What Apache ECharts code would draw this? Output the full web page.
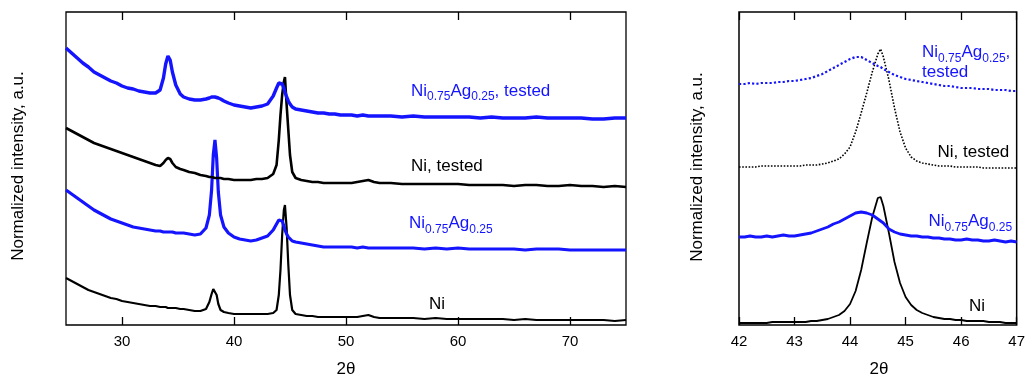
<!DOCTYPE html>
<html>
<head>
<meta charset="utf-8">
<script src="https://cdn.jsdelivr.net/npm/echarts@6/dist/echarts.min.js"></script>
<style>
html,body{margin:0;padding:0;background:#fff;}
#chart{width:1028px;height:378px;}
</style>
</head>
<body>
<div id="chart"></div>
<script>
// ---------- DATA (intensity in arbitrary units) ----------
// Wide scan, 2θ values
const wideTheta = [25,25.5,26,26.5,27,27.5,28,28.5,29,29.5,30,30.5,31,31.5,32,32.5,33,
  33.4,33.7,33.9,34.1,34.3,34.5,34.8,35.2,35.5,36,36.5,37,37.5,
  37.8,38.0,38.15,38.3,38.45,38.6,38.8,39.1,39.5,40,40.5,41,41.5,42,42.5,43,43.5,
  43.8,44.0,44.15,44.3,44.45,44.55,44.7,44.85,45.0,45.2,45.5,
  46,46.5,47,47.5,48,48.5,49,49.5,50,50.5,51,51.5,52,52.5,53,
  54,55,56,57,58,59,60,61,62,63,64,65,66,67,68,69,70,71,72,73,74,75];

const wideNiAgTested = [277,272,267,262,258,253,250,247,244,242,239,237,236,234,233,232,232,
  235,247,261,269,265,253,240,231,228,226,225,225,226,
  227,228,228,228,228,227,226,224,222,220,219,218,217,218,219,221,229,
  237,242,243,241,237,233,228,224,221,218,216,
  215,214,213,212,212,211,211,210,210,210,209,210,209,209,209,
  209,208,209,208,208,208,208,208,207,208,207,207,207,208,207,207,207,207,206,206,207,207];

const wideNiTested = [197,194,191,188,185,182,180,178,176,174,172,170,168,166,164,162,160,
  159,162,165,167,166,162,158,156,155,153,152,150,149,
  148,148,148,147,147,147,147,146,146,145,145,145,145,146,146,147,151,
  160,185,210,230,243,248,220,195,170,153,147,
  145,144,143,143,142,142,142,142,142,142,143,144,145,143,142,
  142,141,141,141,141,141,141,140,140,140,140,139,140,140,139,139,140,139,139,138,139,138];

const wideNiAg = [135,131,127,123,119,115,112,109,106,104,102,100,98,97,96,95,94,
  94,93,93,93,93,93,92,92,92,91,90,91,97,
  110,135,170,185,167,133,110,98,92,88,86,85,84,85,87,89,95,
  101,105,106,104,99,95,91,88,86,84,83,
  82,81,80,79,78,78,78,78,78,78,77,78,77,77,77,
  77,77,77,76,77,76,77,76,76,76,76,76,75,76,76,76,75,75,75,75,75,75];

const wideNi = [47,44,41,38,35,33,31,29,27,26,24,23,22,21,20,19,19,
  18,18,18,17,17,17,17,16,16,15,14,14,16,
  23,31,36,36,30,21,15,13,12,11,11,11,11,11,11,11,12,
  15,30,55,90,115,120,97,60,30,15,11,
  10,9,9,8,8,8,8,8,8,8,8,9,10,8,7,
  7,7,7,6,7,6,6,6,6,6,6,5,6,5,5,5,5,5,5,5,4,5];

// Narrow scan, 2θ values
const zoomTheta = [42.0,42.1,42.2,42.3,42.4,42.5,42.6,42.7,42.8,42.9,43.0,43.1,43.2,43.3,43.4,
  43.5,43.6,43.7,43.8,43.9,44.0,44.1,44.2,44.3,44.4,44.5,44.55,44.6,44.7,44.8,44.9,
  45.0,45.1,45.2,45.3,45.4,45.5,45.6,45.7,45.8,45.9,46.0,46.1,46.2,46.3,46.4,46.5,
  46.6,46.7,46.8,46.9,47.0];

const zoomNiAgTested = [241,241,242,241,242,242,242,243,243,244,244,245,246,247,249,
  251,254,257,260,263,266,268,268,265,262,259,258,256,253,250,248,
  246,245,244,243,242,241,240,239,239,238,237,237,237,236,236,236,
  235,235,235,234,234];

const zoomNiTested = [158,158,158,158,159,159,159,159,159,159,159,159,160,160,160,
  161,162,164,166,171,178,193,212,232,253,271,276,268,245,217,193,
  177,168,164,162,161,160,159,159,159,158,158,158,158,158,157,157,
  157,157,157,157,157];

const zoomNiAg = [88,88,89,88,88,89,88,89,90,89,89,90,91,92,94,
  96,98,101,103,106,109,112,113,112,110,106,104,102,96,93,91,
  90,89,89,88,88,87,87,86,86,85,85,86,85,85,84,84,
  85,84,83,84,83];

const zoomNi = [2,2,2,2,2,2,3,3,3,3,3,3,3,4,4,
  5,6,8,10,14,21,34,55,82,108,127,128,119,92,63,42,
  28,20,15,12,10,8,7,6,6,5,5,4,4,4,4,3,
  3,3,2,2,2];

// Axis ticks
const wideTicks = [30,40,50,60,70];
const zoomTicks = [42,43,44,45,46,47];

// Labels
const yName = 'Normalized intensity, a.u.';
const xName = '2θ';

// ---------- CHART ----------
const BLUE = '#1414ff';
const FAM = '"Liberation Sans", Arial, sans-serif';
const pairs = (xs, ys) => xs.map((x, i) => [x, ys[i]]);

const measureCtx = document.createElement('canvas').getContext('2d');
function textWidth(t, size) {
  measureCtx.font = size + 'px ' + FAM;
  return measureCtx.measureText(t).width;
}

const chart = echarts.init(document.getElementById('chart'), null, {renderer: 'canvas'});

function xAxisDef(grid, pos, min, max, ticks, showLabel) {
  return {
    type: 'value', gridIndex: grid, position: pos, min: min, max: max,
    interval: 1,
    axisLine: {show: false},
    axisTick: {show: true, inside: true, length: 8, customValues: ticks,
      lineStyle: {color: '#000', width: 1.3}},
    axisLabel: {show: showLabel, customValues: ticks, color: '#000', fontSize: 15,
      fontFamily: FAM, margin: 9},
    splitLine: {show: false}
  };
}
function yAxisDef(grid) {
  return {
    type: 'value', gridIndex: grid, min: 0, max: 313,
    axisLine: {show: false}, axisTick: {show: false}, axisLabel: {show: false},
    splitLine: {show: false}
  };
}
function line(name, xi, yi, data, color, width, type) {
  return {
    name: name, type: 'line', xAxisIndex: xi, yAxisIndex: yi, data: data,
    showSymbol: false, symbol: 'none', animation: false, silent: true,
    lineStyle: {color: color, width: width, type: type || 'solid'}
  };
}
function txt(x, y, text, color, size, align, rot) {
  return {type: 'text', x: x, y: y, rotation: rot || 0, silent: true, z: 100,
    style: {text: text, fill: color, font: size + 'px ' + FAM,
      align: align || 'left', verticalAlign: 'middle',
      textAlign: align || 'left', textVerticalAlign: 'middle'}};
}
// label made of main text and subscripts; parts: [text, isSub]
function subLabel(x, y, parts, color) {
  const out = [];
  let cx = x;
  parts.forEach(p => {
    const size = p[1] ? 12 : 17;
    out.push(txt(cx, p[1] ? y + 6 : y, p[0], color, size));
    cx += textWidth(p[0], size);
  });
  return out;
}

const option = {
  backgroundColor: '#fff',
  animation: false,
  grid: [
    {left: 66, top: 12, width: 560, height: 313, show: true, borderColor: '#000', borderWidth: 1.3, backgroundColor: 'transparent'},
    {left: 739, top: 12, width: 280, height: 313, show: true, borderColor: '#000', borderWidth: 1.5, backgroundColor: 'transparent'}
  ],
  xAxis: [
    xAxisDef(0, 'bottom', 25, 75, wideTicks, true),
    xAxisDef(0, 'top', 25, 75, wideTicks, false),
    xAxisDef(1, 'bottom', 42, 47, zoomTicks, true),
    xAxisDef(1, 'top', 42, 47, zoomTicks, false)
  ],
  yAxis: [yAxisDef(0), yAxisDef(1)],
  series: [
    line('Ni', 0, 0, pairs(wideTheta, wideNi), '#000', 2.2),
    line('Ni0.75Ag0.25', 0, 0, pairs(wideTheta, wideNiAg), BLUE, 3.2),
    line('Ni, tested', 0, 0, pairs(wideTheta, wideNiTested), '#000', 2.6),
    line('Ni0.75Ag0.25, tested', 0, 0, pairs(wideTheta, wideNiAgTested), BLUE, 3.4),
    line('Ni zoom', 2, 1, pairs(zoomTheta, zoomNi), '#000', 1.8),
    line('Ni0.75Ag0.25 zoom', 2, 1, pairs(zoomTheta, zoomNiAg), BLUE, 2.8),
    line('Ni, tested zoom', 2, 1, pairs(zoomTheta, zoomNiTested), '#000', 1.6, 'dotted'),
    line('Ni0.75Ag0.25, tested zoom', 2, 1, pairs(zoomTheta, zoomNiAgTested), BLUE, 2.2, 'dotted')
  ],
  graphic: [].concat(
    [txt(18, 166, yName, '#000', 17, 'center', Math.PI / 2),
     txt(697, 167, yName, '#000', 17, 'center', Math.PI / 2),
     txt(346, 369, xName, '#000', 17, 'center'),
     txt(879, 369, xName, '#000', 17, 'center')],
    subLabel(411, 91, [['Ni'], ['0.75', 1], ['Ag'], ['0.25', 1], [', tested']], BLUE),
    [txt(411, 166, 'Ni, tested', '#000', 17)],
    subLabel(409, 223.5, [['Ni'], ['0.75', 1], ['Ag'], ['0.25', 1]], BLUE),
    [txt(429, 304, 'Ni', '#000', 17)],
    subLabel(922, 52.5, [['Ni'], ['0.75', 1], ['Ag'], ['0.25', 1], [',']], BLUE),
    [txt(922, 72.5, 'tested', BLUE, 17)],
    [txt(937.5, 152, 'Ni, tested', '#000', 17)],
    subLabel(928.5, 221.7, [['Ni'], ['0.75', 1], ['Ag'], ['0.25', 1]], BLUE),
    [txt(969, 306.5, 'Ni', '#000', 17)]
  )
};
chart.setOption(option);
</script>
</body>
</html>
